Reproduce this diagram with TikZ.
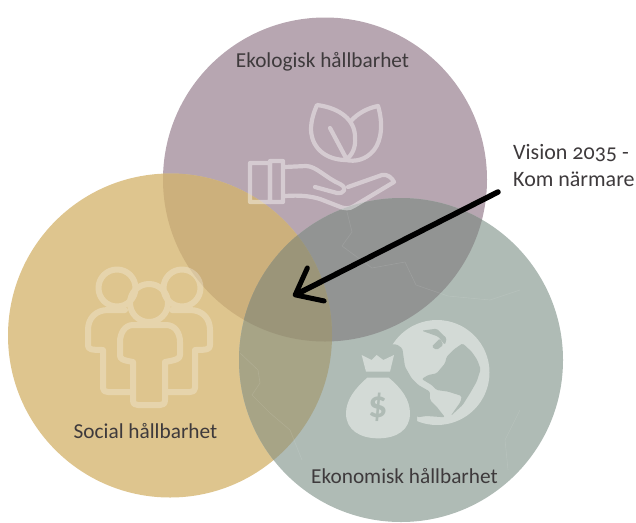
\documentclass[tikz,border=0pt]{standalone}
\usepackage{fontspec}
\setmainfont[Numbers=OldStyle]{Carlito}
\usetikzlibrary{arrows.meta}
\definecolor{cpurple}{HTML}{B7A6B1}
\definecolor{cyellow}{HTML}{DEC58E}
\definecolor{cgreen}{HTML}{AFBBB5}
\definecolor{cpy}{HTML}{CCB07C}
\definecolor{cpg}{HTML}{929493}
\definecolor{cyg}{HTML}{A7A486}
\definecolor{cpyg}{HTML}{9B9579}
\definecolor{ctext}{HTML}{3E3A3C}
\tikzset{
  lab/.style={text=ctext,font=\fontsize{21.3}{27}\selectfont,inner sep=0pt},
  vislab/.style={text=ctext,font=\fontsize{22}{27}\selectfont,inner sep=0pt},
  icon/.style={draw=white,line width=4.2pt,line join=round,line cap=round,fill=none},
  peopleicon/.style={draw=white,line width=6pt,line join=round,line cap=round,fill=none},
  solidlight/.style={fill=cgreen!55!white,draw=none},
  cut/.style={fill=cgreen,draw=none,rounded corners=1.5pt},
  seam/.style={draw=white,draw opacity=.1,line width=.6pt},
}
\begin{document}
\begin{tikzpicture}[x=1pt,y=-1pt]
\useasboundingbox (0,0) rectangle (636,522);
% circles
\coordinate (P) at (325,179.5);
\coordinate (Y) at (170,335.5);
\coordinate (G) at (401,360);
\fill[cpurple] (P) circle (162);
\fill[cyellow] (Y) circle (162);
\fill[cgreen] (G) circle (162);
\begin{scope}\clip (P) circle (162); \fill[cpy] (Y) circle (162); \fill[cpg] (G) circle (162); \end{scope}
\begin{scope}\clip (Y) circle (162); \fill[cyg] (G) circle (162); \end{scope}
\begin{scope}\clip (P) circle (162); \clip (Y) circle (162); \fill[cpyg] (G) circle (162); \end{scope}
% faint seams in green circle
\begin{scope}
\clip (G) circle (162);
\draw[seam] (347,212) -- (352,232) -- (342,246) -- (372,268) -- (405,262) -- (416,285) -- (448,296) -- (490,300) -- (520,290);
\draw[seam] (520,410) -- (505,440) -- (508,470);
\draw[seam] (240,353) -- (258,370) -- (260,383) -- (252,395) -- (270,413) -- (290,430) -- (302,460);
\end{scope}
% leaves and hand
\begin{scope}[transparency group,opacity=.42]
\draw[icon] (317,105) .. controls (340,108) and (355,120) .. (355,137) .. controls (356,148) and (352,155) .. (346,160) .. controls (328,160) and (312,150) .. (311,130) .. controls (311,120) and (314,112) .. (317,105) -- cycle;
\draw[icon] (351,121) .. controls (358,113) and (368,108) .. (378,106) .. controls (383,122) and (382,140) .. (374,150) .. controls (366,160) and (355,162) .. (346,160);
\draw[icon] (330,128) -- (346,158);
\draw[icon] (250,163) rectangle (270,202);
\draw[icon] (270,161) rectangle (283,202);
\draw[icon] (285,167) -- (306,166) .. controls (316,166) and (326,178) .. (340,184) .. controls (348,188) and (344,194) .. (337,193) -- (315,187);
\draw[icon] (348,187) -- (382,175) .. controls (388,174) and (392,178) .. (394,182) -- (354,206) .. controls (350,209) and (344,209) .. (338,206) -- (320,199) .. controls (310,196) and (300,195) .. (285,196);
\end{scope}
% people
\begin{scope}[transparency group,opacity=.27]
\draw[peopleicon] (117,288) circle (18.5);
\draw[peopleicon] (182,288) circle (18.5);
\draw[peopleicon] (149,303) circle (19);
\draw[peopleicon] (125,310) -- (108,310) .. controls (96,310) and (88,318) .. (88,330) -- (88,345) .. controls (88,349) and (90,350) .. (103,350) -- (103,388) .. controls (103,391) and (105,392) .. (108,392) -- (131,392);
\draw[peopleicon] (172,310) -- (190,310) .. controls (202,310) and (210,318) .. (210,330) -- (210,345) .. controls (210,349) and (208,350) .. (195,350) -- (195,388) .. controls (195,391) and (193,392) .. (190,392) -- (167,392);
\draw[peopleicon] (133,325) -- (166,325) .. controls (175,325) and (180,333) .. (180,342) -- (180,355) .. controls (180,359) and (176,360) .. (165,362) -- (165,400) .. controls (165,404) and (163,405) .. (160,405) -- (138,405) .. controls (135,405) and (133,404) .. (133,400) -- (133,362) .. controls (122,360) and (120,359) .. (120,355) -- (120,342) .. controls (120,333) and (125,325) .. (133,325) -- cycle;
\end{scope}
% globe
\fill[solidlight] (437,372.5) circle (52.5);
\begin{scope}[shift={(330,310)},x=.3333pt,y=-.3333pt]
\fill[cut] (150,103) -- (200,103) -- (217,115) -- (225,170) -- (245,205) -- (265,225) -- (300,245) -- (300,270) -- (320,290) -- (345,322) -- (290,318) -- (262,322) -- (240,290) -- (150,205) -- cycle;
\fill[cut] (350,140) -- (372,118) -- (398,100) -- (425,125) -- (442,150) -- (452,178) -- (440,215) -- (420,250) -- (398,285) -- (362,318) -- (392,275) -- (395,258) -- (355,245) -- (320,240) -- (305,225) -- (275,207) -- (295,195) -- (320,190) -- (345,160) -- cycle;
\fill[cut] (275,62) -- (320,56) -- (350,85) -- (345,105) -- (325,80) -- cycle;
\fill[cut] (305,110) -- (330,85) -- (340,105) -- (320,120) -- cycle;
\fill[cut] (150,110) -- (165,110) -- (260,230) -- (262,350) -- (150,350) -- cycle;
% bag
\fill[solidlight] (95,135) -- (125,150) -- (140,135) -- (160,150) -- (192,135) -- (180,185) -- (108,185) -- cycle;
\fill[solidlight] (112,203) -- (176,203) .. controls (215,235) and (240,270) .. (240,310) .. controls (240,360) and (200,385) .. (145,385) .. controls (90,385) and (48,360) .. (48,310) .. controls (48,270) and (75,235) .. (112,203) -- cycle;
\end{scope}
\node[text=cgreen,font=\bfseries\fontsize{38}{38}\selectfont,inner sep=0pt] (dollar) at (378,407) {\$};
% labels
\node[lab] (eko) at (322.5,62) {Ekologisk hållbarhet};
\node[lab] (soc) at (145.5,431) {Social hållbarhet};
\node[lab] (ekon) at (404.5,476) {Ekonomisk hållbarhet};
\node[vislab,anchor=west,align=left] (vis) at (513,166) {Vision 2035 -\\Kom närmare};
% arrow
\coordinate (from) at (498,192);
\coordinate (to) at (293,296);
\draw[line width=5.5pt,line cap=round,-{Straight Barb[length=23pt,width=37pt,line width=5pt,round]}] (from) -- (to);
\end{tikzpicture}
\end{document}
